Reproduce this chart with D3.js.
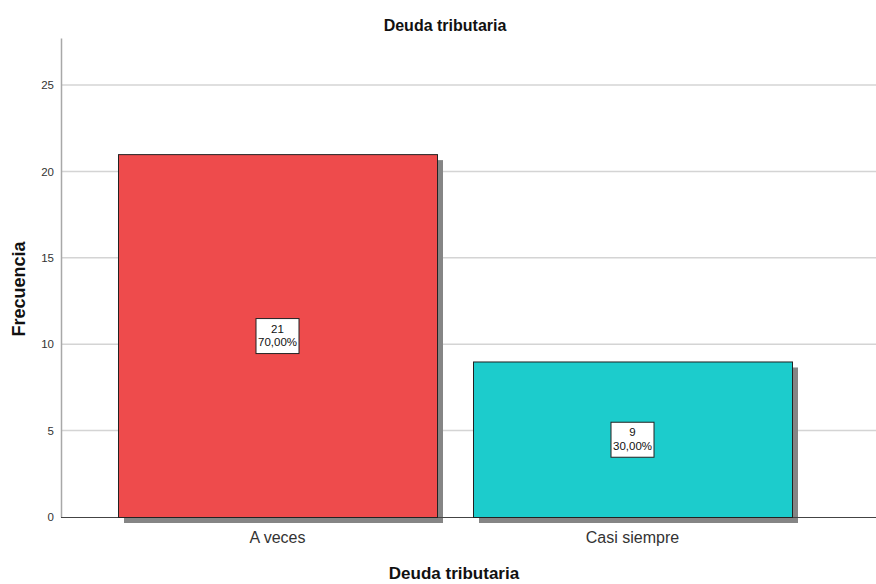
<!DOCTYPE html>
<html><head><meta charset="utf-8">
<script src="https://cdn.jsdelivr.net/npm/d3@7"></script>
<style>body{margin:0;background:#fff}svg{display:block;font-family:"Liberation Sans",Arial,sans-serif}</style>
</head><body><svg id="c" width="876" height="584"></svg>
<script>
const categories = ["A veces", "Casi siempre"];
const counts = [21, 9];
const percents = ["70,00%", "30,00%"];
const colors = ["#ee4b4c", "#1ccccc"];
const yTicks = [0, 5, 10, 15, 20, 25];

const svg = d3.select("#c");
const y = d3.scaleLinear().domain([0, 27.72]).range([517, 38]);
const x = d3.scaleBand().domain(categories).range([100, 810]).paddingInner(0.1014).paddingOuter(0.0507);
const axisX = 61, rightX = 876;

// gridlines
svg.append("g").selectAll("line").data(yTicks.filter(d => d > 0)).join("line")
  .attr("x1", axisX).attr("x2", rightX).attr("y1", d => y(d)).attr("y2", d => y(d))
  .attr("stroke", "#d4d4d4").attr("stroke-width", 1.5);

// y axis
const ya = svg.append("g").attr("transform", `translate(${axisX},0)`)
  .call(d3.axisLeft(y).tickValues(yTicks).tickSize(0).tickPadding(7));
ya.select(".domain").attr("stroke", "#a8a8a8").attr("stroke-width", 1.5);
ya.selectAll("text").attr("font-size", 11.5).attr("fill", "#333").attr("font-family", "Liberation Sans, Arial, sans-serif");

const data = categories.map((c, i) => ({c, v: counts[i], p: percents[i], col: colors[i]}));

// shadows
svg.append("g").selectAll("rect").data(data).join("rect")
  .attr("x", d => x(d.c) + 6).attr("y", d => y(d.v) + 6)
  .attr("width", x.bandwidth()).attr("height", d => y(0) - y(d.v))
  .attr("fill", "#858585");

// x axis line
svg.append("line").attr("x1", axisX).attr("x2", rightX).attr("y1", y(0) + 0.5).attr("y2", y(0) + 0.5)
  .attr("stroke", "#444").attr("stroke-width", 1);

// bars
svg.append("g").selectAll("rect").data(data).join("rect")
  .attr("x", d => x(d.c) + 0.5).attr("y", d => y(d.v) + 0.5)
  .attr("width", x.bandwidth()).attr("height", d => y(0) - y(d.v))
  .attr("fill", d => d.col).attr("stroke", "#222").attr("stroke-width", 1);

// labels
const lg = svg.append("g").selectAll("g").data(data).join("g")
  .attr("transform", d => `translate(${x(d.c) + x.bandwidth() / 2},${(y(d.v) + y(0)) / 2})`);
lg.append("rect").attr("x", -21.5).attr("y", -17).attr("width", 43).attr("height", 35)
  .attr("fill", "#fff").attr("stroke", "#222").attr("stroke-width", 1);
lg.append("text").attr("text-anchor", "middle").attr("y", -3).attr("font-size", 11.5).attr("fill", "#111").text(d => d.v);
lg.append("text").attr("text-anchor", "middle").attr("y", 10.5).attr("font-size", 11.5).attr("fill", "#111").text(d => d.p);

// category labels
svg.append("g").selectAll("text").data(categories).join("text")
  .attr("x", d => x(d) + x.bandwidth() / 2).attr("y", 543)
  .attr("text-anchor", "middle").attr("font-size", 16).attr("fill", "#333").text(d => d);

// titles
svg.append("text").attr("x", 445).attr("y", 31).attr("text-anchor", "middle")
  .attr("font-size", 16).attr("font-weight", "bold").attr("fill", "#111").text("Deuda tributaria");
svg.append("text").attr("x", 454).attr("y", 579).attr("text-anchor", "middle")
  .attr("font-size", 17).attr("font-weight", "bold").attr("fill", "#111").text("Deuda tributaria");
svg.append("text").attr("transform", "translate(25,289) rotate(-90)").attr("text-anchor", "middle")
  .attr("font-size", 18).attr("font-weight", "bold").attr("fill", "#111").text("Frecuencia");
</script></body></html>
